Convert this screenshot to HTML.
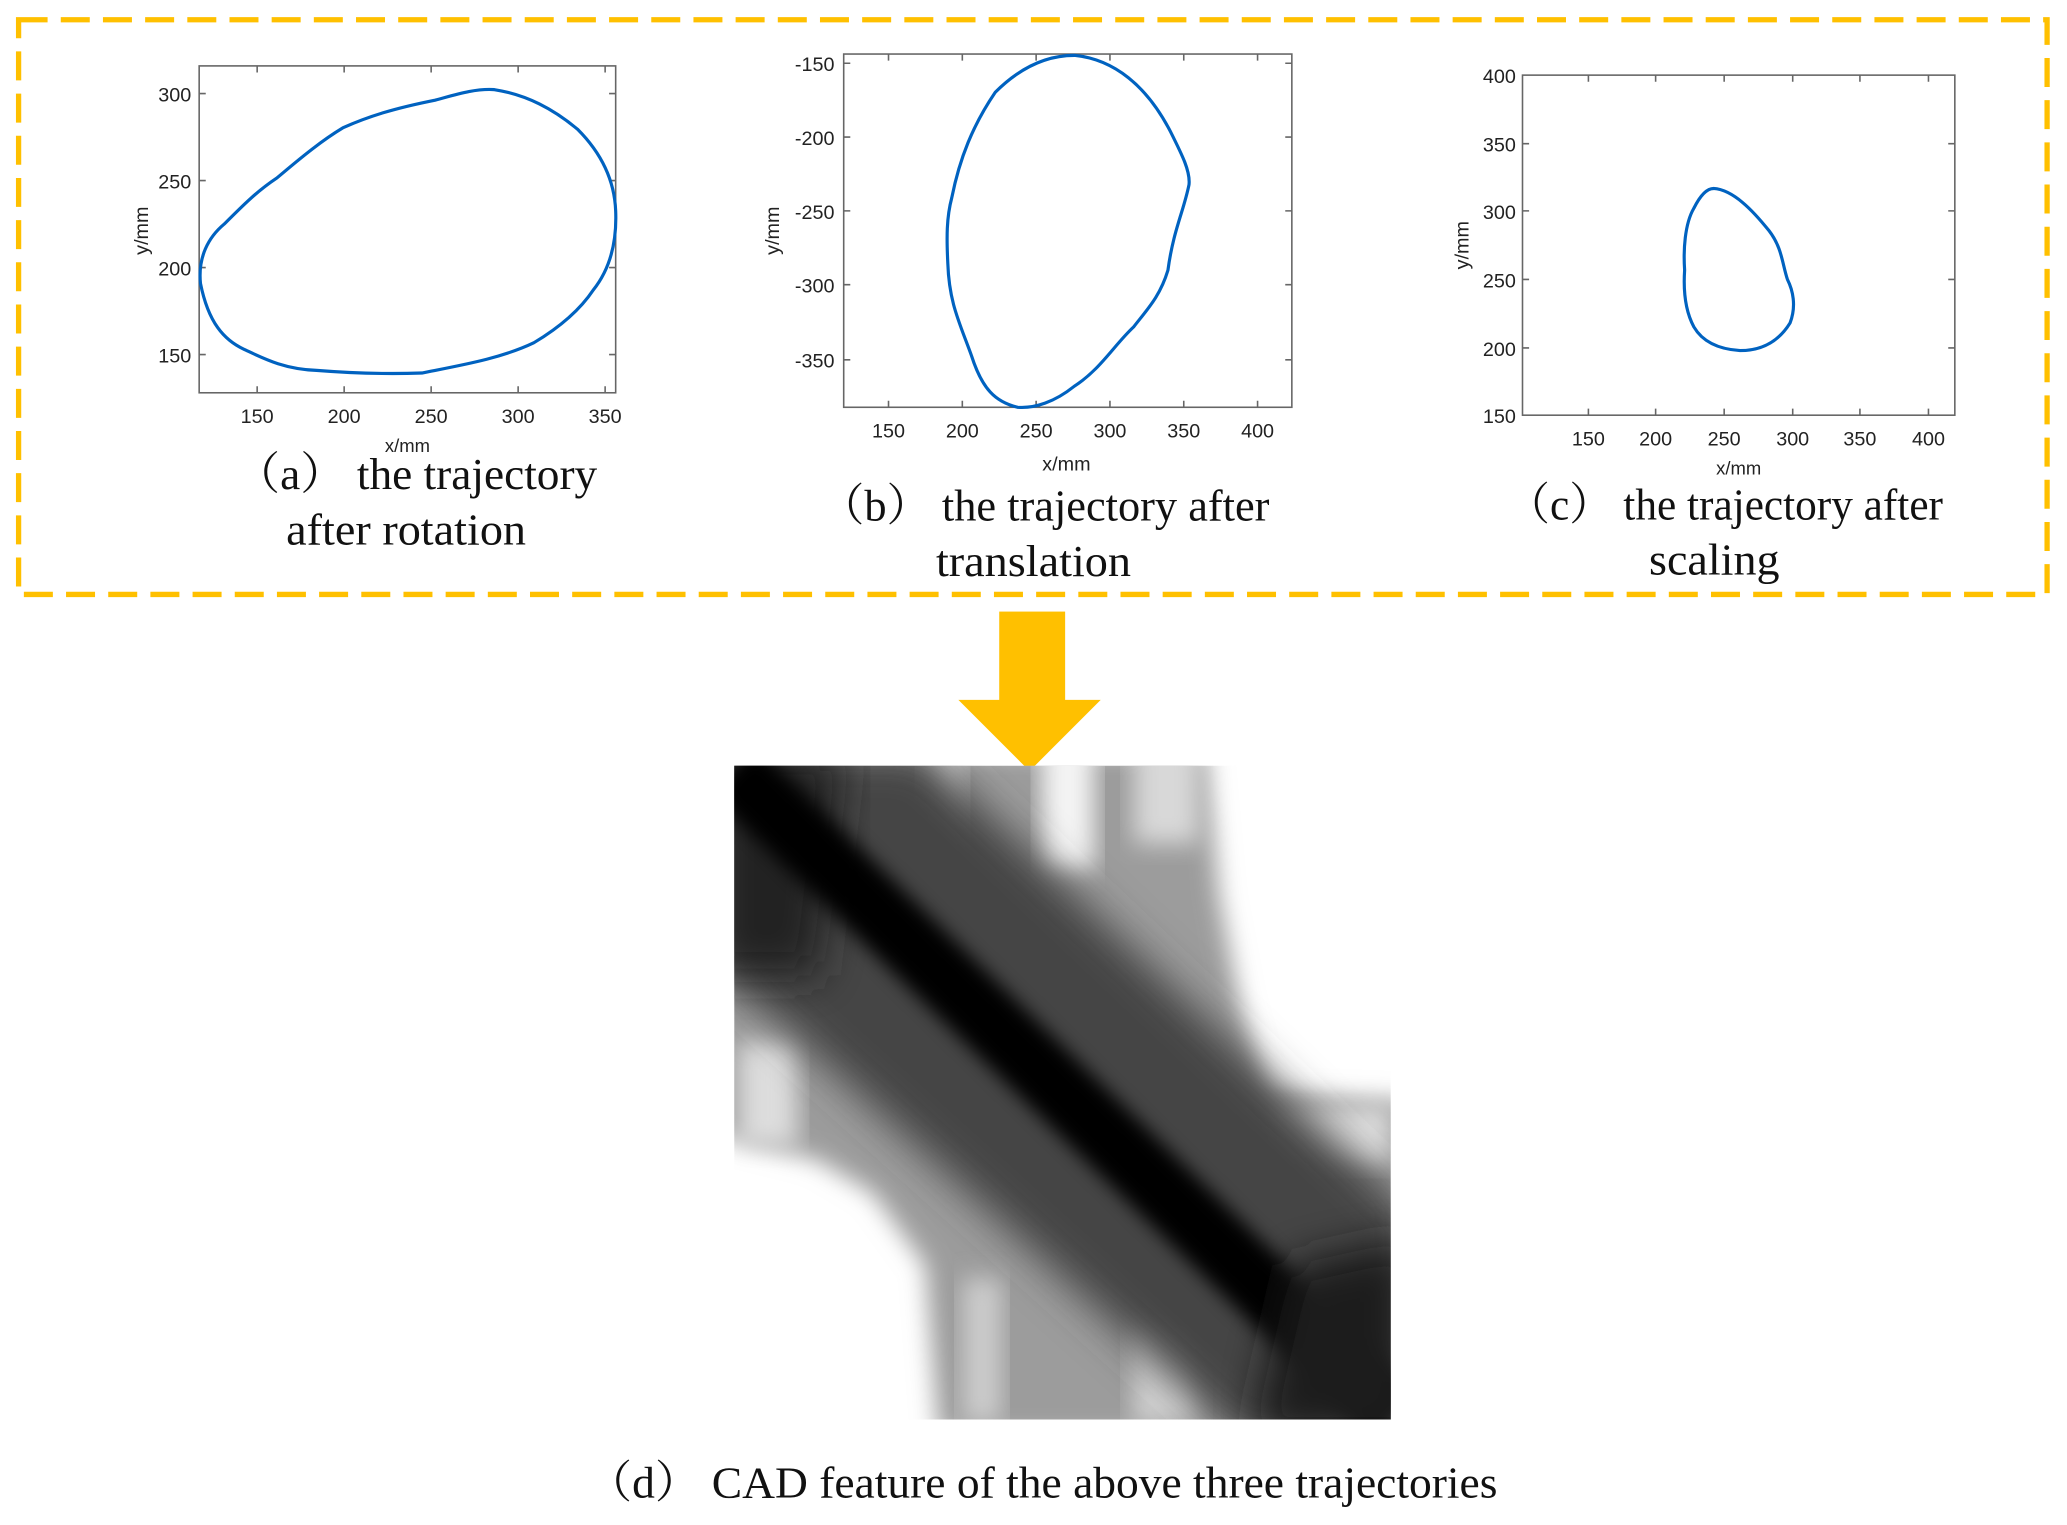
<!DOCTYPE html>
<html><head><meta charset="utf-8"><style>
html,body{margin:0;padding:0;background:#fff;}
svg{display:block;}
.t{font-family:"Liberation Sans",sans-serif;font-size:15px;fill:#222;}
.c{font-family:"Liberation Serif","Noto Serif CJK SC",serif;font-size:34px;fill:#111;}
.ax{fill:none;stroke:#666;stroke-width:1.2;}
.cv{fill:none;stroke:#0062C0;stroke-width:2.4;stroke-linejoin:round;}
</style></head><body>
<svg width="2067" height="1525" viewBox="0 0 1568 1157" xmlns="http://www.w3.org/2000/svg">
<defs>
<filter id="b8" x="-20%" y="-20%" width="140%" height="140%"><feGaussianBlur stdDeviation="9"/></filter>
<filter id="b14" x="-20%" y="-20%" width="140%" height="140%"><feGaussianBlur stdDeviation="16"/></filter>
<filter id="b5" x="-20%" y="-20%" width="140%" height="140%"><feGaussianBlur stdDeviation="7"/></filter>
<clipPath id="hm"><rect x="557" y="581" width="498" height="496"/></clipPath>
</defs>
<rect x="14" y="15" width="1539" height="436" fill="none" stroke="#FFC000" stroke-width="4" stroke-dasharray="22,10"/>

<!-- panel a -->
<rect x="151" y="50" width="316" height="248" class="ax"/>
<g class="ax">
<path d="M195,298v-5M261,298v-5M327,298v-5M393,298v-5M459,298v-5M195,50v5M261,50v5M327,50v5M393,50v5M459,50v5"/>
<path d="M151,71h5M151,137h5M151,203h5M151,269h5M467,71h-5M467,137h-5M467,203h-5M467,269h-5"/>
</g>
<g class="t" text-anchor="end"><text x="145" y="77">300</text><text x="145" y="143">250</text><text x="145" y="209">200</text><text x="145" y="275">150</text></g>
<g class="t" text-anchor="middle"><text x="195" y="321">150</text><text x="261" y="321">200</text><text x="327" y="321">250</text><text x="393" y="321">300</text><text x="459" y="321">350</text>
<text x="309" y="343" font-size="14">x/mm</text></g>
<text class="t" font-size="14" transform="translate(112,175) rotate(-90)" text-anchor="middle">y/mm</text>
<path class="cv" d="M152,215 C150,195 158,180 170,170 C185,155 195,145 210,135 C230,118 245,106 260,97 C280,88 300,82 330,76 C345,72 360,67 375,68 C400,72 420,83 438,98 C455,115 466,135 467,160 C468,185 462,205 450,220 C440,235 425,248 405,260 C380,272 350,277 320,283 C290,284 265,283 240,281 C215,280 200,272 185,265 C170,258 158,245 152,215Z"/>
<text class="c" x="178" y="371" textLength="275" lengthAdjust="spacingAndGlyphs">（a）  the trajectory</text>
<text class="c" x="217" y="413" textLength="182" lengthAdjust="spacingAndGlyphs">after rotation</text>

<!-- panel b -->
<rect x="640" y="41" width="340" height="268" class="ax"/>
<g class="ax">
<path d="M674,309v-5M730,309v-5M786,309v-5M842,309v-5M898,309v-5M954,309v-5M674,41v5M730,41v5M786,41v5M842,41v5M898,41v5M954,41v5"/>
<path d="M640,48h5M640,104h5M640,160h5M640,216h5M640,273h5M980,48h-5M980,104h-5M980,160h-5M980,216h-5M980,273h-5"/>
</g>
<g class="t" text-anchor="end"><text x="633" y="54">-150</text><text x="633" y="110">-200</text><text x="633" y="166">-250</text><text x="633" y="222">-300</text><text x="633" y="279">-350</text></g>
<g class="t" text-anchor="middle"><text x="674" y="332">150</text><text x="730" y="332">200</text><text x="786" y="332">250</text><text x="842" y="332">300</text><text x="898" y="332">350</text><text x="954" y="332">400</text>
<text x="809" y="357" font-size="15">x/mm</text></g>
<text class="t" font-size="15" transform="translate(591,175) rotate(-90)" text-anchor="middle">y/mm</text>
<path class="cv" d="M815,42 C845,45 870,65 888,100 C897,118 903,130 902,140 C898,160 890,175 886,205 C880,225 870,235 860,248 C845,262 835,280 815,293 C800,305 785,310 772,309 C755,305 745,295 737,270 C728,245 720,230 719,200 C718,180 718,165 722,150 C728,120 738,95 755,70 C770,55 790,42 815,42Z"/>
<text class="c" x="622" y="395" textLength="341" lengthAdjust="spacingAndGlyphs">（b）  the trajectory after</text>
<text class="c" x="710" y="437" textLength="148" lengthAdjust="spacingAndGlyphs">translation</text>

<!-- panel c -->
<rect x="1155" y="57" width="328" height="258" class="ax"/>
<g class="ax">
<path d="M1205,315v-5M1256,315v-5M1308,315v-5M1360,315v-5M1411,315v-5M1463,315v-5M1205,57v5M1256,57v5M1308,57v5M1360,57v5M1411,57v5M1463,57v5"/>
<path d="M1155,109h5M1155,160h5M1155,212h5M1155,264h5M1483,109h-5M1483,160h-5M1483,212h-5M1483,264h-5"/>
</g>
<g class="t" text-anchor="end"><text x="1150" y="63">400</text><text x="1150" y="115">350</text><text x="1150" y="166">300</text><text x="1150" y="218">250</text><text x="1150" y="270">200</text><text x="1150" y="321">150</text></g>
<g class="t" text-anchor="middle"><text x="1205" y="338">150</text><text x="1256" y="338">200</text><text x="1308" y="338">250</text><text x="1360" y="338">300</text><text x="1411" y="338">350</text><text x="1463" y="338">400</text>
<text x="1319" y="360" font-size="14">x/mm</text></g>
<text class="t" font-size="14" transform="translate(1114,186) rotate(-90)" text-anchor="middle">y/mm</text>
<path class="cv" d="M1300,143 C1315,144 1330,160 1342,175 C1352,188 1352,200 1356,212 C1360,220 1363,232 1358,245 C1350,258 1338,266 1320,266 C1305,265 1292,260 1285,248 C1278,235 1277,220 1278,205 C1277,190 1278,170 1285,158 C1290,148 1295,143 1300,143Z"/>
<text class="c" x="1143" y="394" textLength="331" lengthAdjust="spacingAndGlyphs">（c）  the trajectory after</text>
<text class="c" x="1251" y="436" textLength="99" lengthAdjust="spacingAndGlyphs">scaling</text>

<!-- arrow -->
<rect x="758" y="464" width="50" height="68" fill="#FFC000"/>
<polygon points="727,531 835,531 781,585" fill="#FFC000"/>

<!-- heatmap -->
<g clip-path="url(#hm)">
<rect x="557" y="581" width="498" height="496" fill="#fff"/>
<polygon filter="url(#b8)" fill="#9c9c9c" points="540,570 915,570 925,680 940,760 960,830 1070,835 1070,1090 712,1090 702,960 662,905 620,880 540,860"/>
<rect x="790" y="560" width="40" height="100" fill="#f4f4f4" filter="url(#b8)"/>
<rect x="700" y="560" width="30" height="110" fill="#d8d8d8" filter="url(#b8)"/>
<rect x="860" y="560" width="50" height="80" fill="#d8d8d8" filter="url(#b8)"/>
<rect x="560" y="790" width="45" height="80" fill="#ddd" filter="url(#b8)"/>
<rect x="960" y="840" width="95" height="45" fill="#e0e0e0" filter="url(#b8)"/>
<rect x="730" y="970" width="30" height="110" fill="#ccc" filter="url(#b8)"/>
<rect x="860" y="1000" width="50" height="80" fill="#d4d4d4" filter="url(#b8)"/>
<polygon filter="url(#b14)" fill="#444" points="540,570 700,570 1070,920 1070,1090 940,1090 540,730"/>
<polygon filter="url(#b14)" fill="#222" points="540,570 640,570 620,740 540,740"/>
<line x1="555" y1="583" x2="1058" y2="1075" stroke="#000" stroke-width="50" filter="url(#b5)"/>
<polygon fill="#1a1a1a" filter="url(#b14)" points="980,960 1070,940 1070,1090 950,1090"/>
</g>
<text class="c" x="445" y="1136" textLength="691" lengthAdjust="spacingAndGlyphs">（d）  CAD feature of the above three trajectories</text>
</svg>
</body></html>
